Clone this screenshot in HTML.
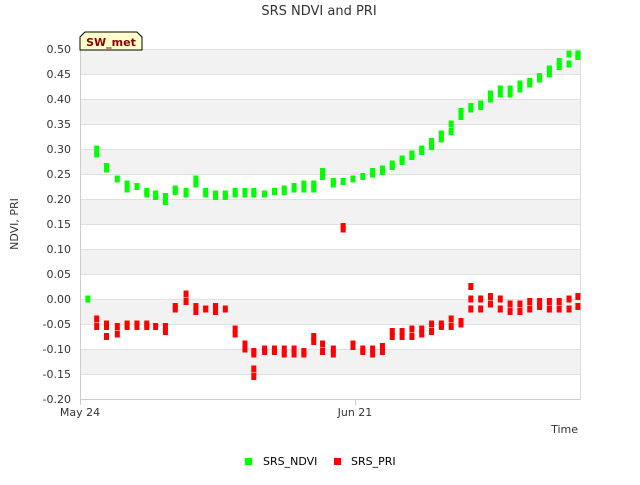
<!DOCTYPE html>
<html><head><meta charset="utf-8"><style>
body{margin:0;background:#fff;font-family:"Liberation Sans","DejaVu Sans",sans-serif}
svg text{font-family:"DejaVu Sans","Liberation Sans",sans-serif}
</style></head><body>
<svg id="chart" width="640" height="480" xmlns="http://www.w3.org/2000/svg">
<rect width="640" height="480" fill="#fff"/>
<text x="319" y="15" text-anchor="middle" font-size="13" fill="#333">SRS NDVI and PRI</text>
<g id="bands"></g><g id="grid"></g><g id="yticks"></g><g id="xticks"></g>
<line x1="80.5" y1="49" x2="80.5" y2="400" stroke="#ccc"/>
<line x1="80" y1="399.5" x2="580" y2="399.5" stroke="#ccc"/>
<line x1="580.5" y1="49" x2="580.5" y2="400" stroke="#ddd"/>
<g id="marks"></g>
<text transform="translate(18,224) rotate(-90)" text-anchor="middle" font-size="11" fill="#333">NDVI, PRI</text>
<text x="578" y="433" text-anchor="end" font-size="11" fill="#333">Time</text>
<g>
<path d="M80,50 L80,37 L85,32 L137,32 L142,37 L142,50 Z" fill="#ffffcc" stroke="#000"/>
<text x="111" y="46" text-anchor="middle" font-size="11" font-weight="bold" fill="#8b0000">SW_met</text>
</g>
<g>
<g><rect x="245" y="458" width="7" height="7" fill="#00ff00"/><text x="263" y="465" font-size="11" fill="#000">SRS_NDVI</text></g>
<g><rect x="334" y="458" width="7" height="7" fill="#ff0000"/><text x="351" y="465" font-size="11" fill="#000">SRS_PRI</text></g>
</g>
</svg>
<script>
const yTicks=[0.5,0.45,0.4,0.35,0.3,0.25,0.2,0.15,0.1,0.05,0,-0.05,-0.1,-0.15,-0.2];
const yTickLabels=["0.50","0.45","0.40","0.35","0.30","0.25","0.20","0.15","0.10","0.05","0.00","-0.05","-0.10","-0.15","-0.20"];
const xTickDays=[0,28];
const xTickLabels=["May 24","Jun 21"];
const ndviDays=[0.8,1.7,2.7,3.8,4.8,5.8,6.8,7.7,8.7,9.7,10.8,11.8,12.8,13.8,14.8,15.8,16.8,17.7,18.8,19.8,20.8,21.8,22.8,23.8,24.7,25.8,26.8,27.8,28.8,29.8,30.8,31.8,32.8,33.8,34.8,35.8,36.8,37.8,38.8,39.8,40.8,41.8,42.8,43.8,44.8,45.8,46.8,47.8,48.8,49.8,50.7];
const ndviValues=[[0],[0.30,0.29],[0.265,0.26],[0.24],[0.23,0.22],[0.225],[0.215,0.21],[0.21,0.205],[0.205,0.195],[0.22,0.215],[0.215,0.21],[0.24,0.23],[0.215,0.21],[0.21,0.205],[0.21,0.205],[0.215,0.21],[0.215,0.21],[0.215,0.21],[0.21,0.21],[0.215,0.215],[0.22,0.215],[0.225,0.22],[0.23,0.22],[0.23,0.22],[0.255,0.245],[0.235,0.23],[0.235],[0.24],[0.245],[0.255,0.25],[0.26,0.255],[0.27,0.265],[0.28,0.275],[0.29,0.285],[0.30,0.295],[0.315,0.305],[0.33,0.32],[0.35,0.335],[0.375,0.365],[0.385,0.38],[0.39,0.385],[0.41,0.40],[0.42,0.41],[0.42,0.41],[0.43,0.42],[0.435,0.43],[0.445,0.44],[0.46,0.45],[0.475,0.465],[0.49,0.47],[0.49,0.485]];
const priDays=[1.7,2.7,3.8,4.8,5.8,6.8,7.7,8.7,9.7,10.8,11.8,12.8,13.8,14.8,15.8,16.8,17.7,18.8,19.8,20.8,21.8,22.8,23.8,24.7,25.8,26.8,27.8,28.8,29.8,30.8,31.8,32.8,33.8,34.8,35.8,36.8,37.8,38.8,39.8,40.8,41.8,42.8,43.8,44.8,45.8,46.8,47.8,48.8,49.8,50.7];
const priValues=[[-0.04,-0.055],[-0.05,-0.055,-0.075],[-0.055,-0.07],[-0.05,-0.055],[-0.05,-0.055],[-0.05,-0.055],[-0.055],[-0.055,-0.065],[-0.015,-0.02],[0.01,-0.005],[-0.015,-0.025],[-0.02,-0.02],[-0.015,-0.025],[-0.02],[-0.06,-0.07],[-0.09,-0.10],[-0.105,-0.11,-0.14,-0.155],[-0.10,-0.105],[-0.10,-0.105],[-0.10,-0.11],[-0.10,-0.11],[-0.105,-0.11],[-0.075,-0.085],[-0.09,-0.105],[-0.10,-0.11],[0.145,0.14],[-0.09,-0.095],[-0.10,-0.105],[-0.10,-0.11],[-0.095,-0.105],[-0.065,-0.075],[-0.065,-0.075],[-0.06,-0.075],[-0.06,-0.07],[-0.05,-0.065],[-0.05,-0.055],[-0.04,-0.055],[-0.045,-0.05],[0.025,0,-0.02],[0,-0.02],[0.005,-0.01],[0,-0.02],[-0.01,-0.025],[-0.01,-0.025],[-0.005,-0.02],[-0.005,-0.015],[-0.005,-0.02],[-0.005,-0.02],[0,-0.02],[0.005,-0.015]];
const NS="http://www.w3.org/2000/svg";
const X0=80,PXDAY=9.82,Y0=49,YMAX=0.5,PXUNIT=500;
function xs(d){return X0+d*PXDAY;}
function ys(v){return Y0+(YMAX-v)*PXUNIT;}
function mk(tag,attrs,parent){const e=document.createElementNS(NS,tag);for(const k in attrs)e.setAttribute(k,attrs[k]);parent.appendChild(e);return e;}
const bands=document.getElementById('bands'),grid=document.getElementById('grid'),yt=document.getElementById('yticks'),xt=document.getElementById('xticks'),marks=document.getElementById('marks');
for(let i=0;i<yTicks.length;i++){
  const y=ys(yTicks[i]);
  if(i<yTicks.length-1&&i%2===0){
    const b=mk('rect',{x:80,y:y,width:500,height:ys(yTicks[i+1])-y,fill:'#f2f2f2'},bands);
    
    
  }
  const g=mk('line',{x1:80,x2:580,y1:Math.round(y)+0.5,y2:Math.round(y)+0.5,stroke:'#e0e0e0'},grid);
  
  
  const t=mk('text',{x:71,y:y+4,'text-anchor':'end','font-size':'11',fill:'#333'},yt);
  t.textContent=yTickLabels[i];
  
  
}
for(let i=0;i<xTickDays.length;i++){
  const x=xs(xTickDays[i]);
  mk('line',{x1:Math.round(x)+0.5,x2:Math.round(x)+0.5,y1:400,y2:405,stroke:'#ccc'},xt);
  const t=mk('text',{x:x,y:416,'text-anchor':'middle','font-size':'11',fill:'#333'},xt);
  t.textContent=xTickLabels[i];
  
  
}
function drawSeries(days,vals,color,name){
  for(let i=0;i<days.length;i++){
    for(const v of vals[i]){
      const r=mk('rect',{x:xs(days[i])-2.5,y:ys(v)-3.5,width:5,height:7,fill:color},marks);
      
      
    }
  }
}
drawSeries(ndviDays,ndviValues,'#00ff00','ndvi-point');
drawSeries(priDays,priValues,'#ff0000','pri-point');
</script>
</body></html>
